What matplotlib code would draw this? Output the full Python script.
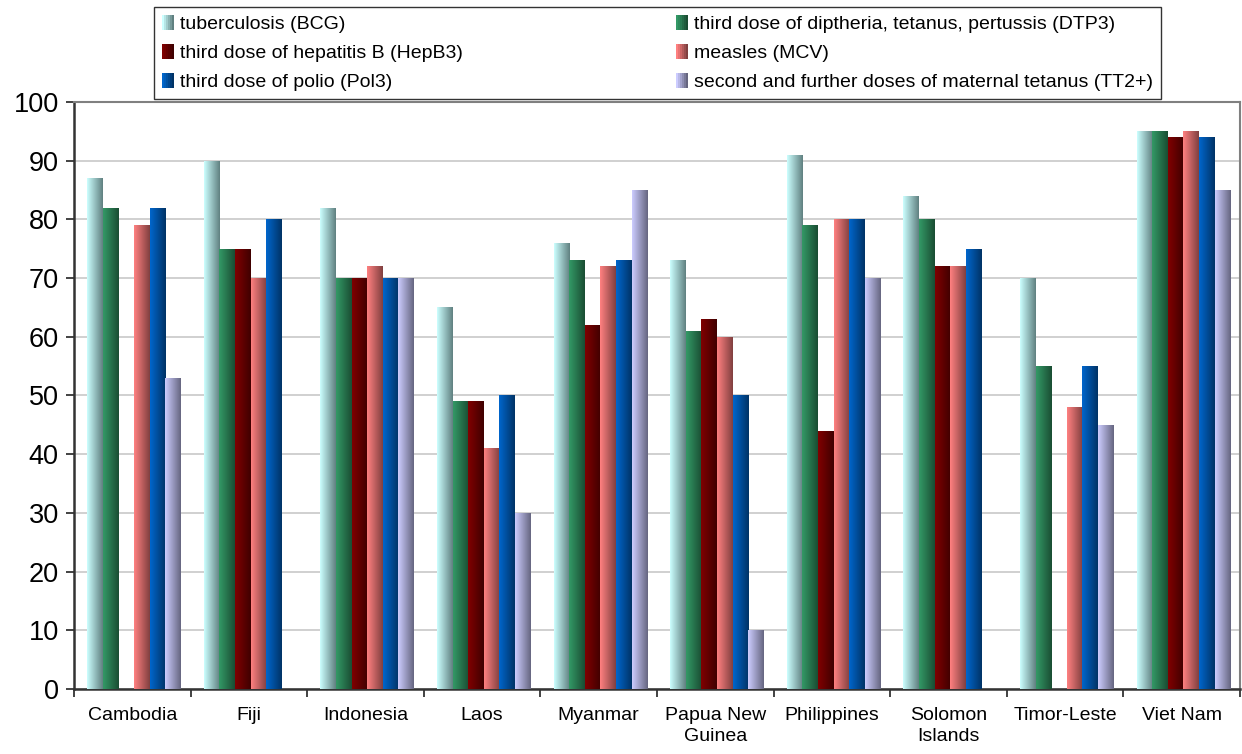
import numpy as np
import matplotlib
matplotlib.use("Agg")
import matplotlib.pyplot as plt
from matplotlib.legend_handler import HandlerBase
from matplotlib.patches import Rectangle

plt.rcParams['font.family'] = ['Liberation Sans', 'DejaVu Sans']

countries = ["Cambodia", "Fiji", "Indonesia", "Laos", "Myanmar", "Papua New\nGuinea",
             "Philippines", "Solomon\nIslands", "Timor-Leste", "Viet Nam"]

series_names = [
    "tuberculosis (BCG)",
    "third dose of diptheria, tetanus, pertussis (DTP3)",
    "third dose of hepatitis B (HepB3)",
    "measles (MCV)",
    "third dose of polio (Pol3)",
    "second and further doses of maternal tetanus (TT2+)",
]

nan = np.nan
bcg   = [87, 90, 82, 65, 76, 73, 91, 84, 70, 95]
dtp3  = [82, 75, 70, 49, 73, 61, 79, 80, 55, 95]
hepb3 = [nan, 75, 70, 49, 62, 63, 44, 72, nan, 94]
mcv   = [79, 70, 72, 41, 72, 60, 80, 72, 48, 95]
pol3  = [82, 80, 70, 50, 73, 50, 80, 75, 55, 94]
tt2   = [53, nan, 70, 30, 85, 10, 70, nan, 45, 85]
series_values = [bcg, dtp3, hepb3, mcv, pol3, tt2]

# left (light) and right (dark) colours of each bar's horizontal gradient
grad_left = ["#ccffff", "#339966", "#800000", "#ff8080", "#0066cc", "#ccccff"]
grad_right = ["#608080", "#1a4d33", "#400000", "#804040", "#003366", "#666680"]


def gradient_rgba(c0, c1, n=64):
    a = np.array(matplotlib.colors.to_rgb(c0))
    b = np.array(matplotlib.colors.to_rgb(c1))
    t = np.linspace(0, 1, n)[:, None]
    return (a * (1 - t) + b * t)[None, :, :]


class GradientHandler(HandlerBase):
    def __init__(self, c0, c1):
        super().__init__()
        self.c0, self.c1 = c0, c1

    def create_artists(self, legend, orig_handle, xdescent, ydescent,
                       width, height, fontsize, trans):
        n = 6
        arts = []
        grad = gradient_rgba(self.c0, self.c1, n)[0]
        w = width / n
        for i in range(n):
            r = Rectangle((-xdescent + i * w, -ydescent), w * 1.02, height,
                          facecolor=grad[i], edgecolor='none', transform=trans)
            arts.append(r)
        return arts


fig = plt.figure(figsize=(12.42, 7.54), dpi=100)
ax = fig.add_axes([74 / 1242, 65 / 754, (1240 - 74) / 1242, (689 - 102) / 754])

n_series = len(series_values)
x = np.arange(len(countries))
bar_w = 0.134
offsets = (np.arange(n_series) - (n_series - 1) / 2) * bar_w + 0.015

handles = []
for s in range(n_series):
    vals = np.array(series_values[s], dtype=float)
    bars = ax.bar(x + offsets[s], np.nan_to_num(vals), width=bar_w,
                  color=grad_left[s], edgecolor='none', zorder=2)
    handles.append(bars)
    img = gradient_rgba(grad_left[s], grad_right[s])
    for b, v in zip(bars, vals):
        if np.isnan(v) or v <= 0:
            b.set_visible(False)
            continue
        x0, y0 = b.get_x(), b.get_y()
        im = ax.imshow(img, extent=(x0, x0 + b.get_width(), y0, y0 + b.get_height()),
                       aspect='auto', interpolation='bilinear', zorder=3)
        im.set_clip_path(b)

ax.set_xlim(-0.5, len(countries) - 0.5)
ax.set_ylim(0, 100)
ax.set_yticks(np.arange(0, 101, 10))
ax.tick_params(axis='y', labelsize=19.5, length=6, width=1.2, color='#222222', pad=5)
ax.set_xticks(x)
ax.set_xticklabels(countries, fontsize=14, linespacing=1.3)
ax.tick_params(axis='x', length=0, pad=13)
ax.set_xticks(np.arange(-0.5, len(countries), 1), minor=True)
ax.tick_params(axis='x', which='minor', length=6, width=1.2, color='#222222', direction='out')

ax.grid(axis='y', color='#c8c8c8', linewidth=1.2, zorder=0)
ax.set_axisbelow(True)
for side in ('left', 'bottom'):
    ax.spines[side].set_color('#333333')
    ax.spines[side].set_linewidth(1.8)
for side in ('top', 'right'):
    ax.spines[side].set_color('#808080')
    ax.spines[side].set_linewidth(1.5)

order = [0, 2, 4, 1, 3, 5]
leg = fig.legend([handles[i] for i in order], [series_names[i] for i in order],
                 handler_map={handles[i]: GradientHandler(grad_left[i], grad_right[i])
                              for i in range(n_series)},
                 ncol=2, loc='upper left',
                 bbox_to_anchor=(154 / 1242, 1 - 7 / 754),
                 borderaxespad=0, fontsize=14, frameon=True, fancybox=False,
                 edgecolor='black', handlelength=0.6, handleheight=0.8,
                 handletextpad=0.3, labelspacing=0.55, borderpad=0.42,
                 columnspacing=11.0)
leg.get_frame().set_linewidth(1.0)

fig.savefig("out.png", dpi=100)
